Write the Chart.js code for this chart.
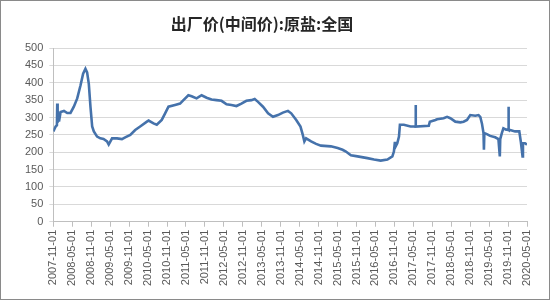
<!DOCTYPE html>
<html>
<head>
<meta charset="utf-8">
<script src="https://cdn.jsdelivr.net/npm/chart.js@4.4.1/dist/chart.umd.min.js"></script>
<style>
body { margin: 0; background: #fff; }
#frame { width: 550px; height: 300px; box-sizing: border-box; border: 1px solid #8a8a8a; }
</style>
</head>
<body>
<div id="frame"><canvas id="saltChart" width="548" height="298"></canvas></div>
<script>
const chartTitle = '出厂价(中间价):原盐:全国';

// x axis labels, one every 6 months
const tickLabels = ['2007-11-01','2008-05-01','2008-11-01','2009-05-01','2009-11-01','2010-05-01',
  '2010-11-01','2011-05-01','2011-11-01','2012-05-01','2012-11-01','2013-05-01','2013-11-01',
  '2014-05-01','2014-11-01','2015-05-01','2015-11-01','2016-05-01','2016-11-01','2017-05-01',
  '2017-11-01','2018-05-01','2018-11-01','2019-05-01','2019-11-01','2020-05-01'];

// (元/吨)
const dates = ['2007-11-01','2007-11-23','2007-12-05','2007-12-08','2007-12-12','2007-12-18','2007-12-25',
  '2008-01-10','2008-02-12','2008-03-13','2008-04-14','2008-05-16','2008-06-18','2008-07-19','2008-08-14',
  '2008-09-06','2008-09-22','2008-10-08','2008-10-24','2008-11-10','2008-11-26','2008-12-27','2009-01-28',
  '2009-02-28','2009-04-01','2009-04-17','2009-05-19','2009-07-06','2009-08-23','2009-09-24','2009-11-12',
  '2009-12-29','2010-02-16','2010-04-20','2010-05-06','2010-06-23','2010-07-24','2010-09-11','2010-10-13',
  '2010-11-15','2011-01-17','2011-03-05','2011-04-07','2011-05-24','2011-06-25','2011-08-12','2011-09-30',
  '2011-11-17','2012-01-04','2012-02-21','2012-04-09','2012-05-27','2012-07-13','2012-08-31','2012-10-18',
  '2012-12-05','2013-01-23','2013-02-24','2013-03-26','2013-05-13','2013-07-01','2013-08-18','2013-10-05',
  '2013-11-22','2014-01-10','2014-02-11','2014-03-29','2014-05-09','2014-06-01','2014-06-16','2014-07-02',
  '2014-08-20','2014-10-07','2014-11-24','2015-02-28','2015-05-02','2015-06-19','2015-07-21','2015-09-08',
  '2015-11-11','2016-02-15','2016-04-18','2016-06-21','2016-08-25','2016-10-12','2016-10-27','2016-11-06',
  '2016-11-10','2016-11-29','2016-12-15','2016-12-24','2017-02-01','2017-04-05','2017-05-20','2017-05-23',
  '2017-05-26','2017-09-28','2017-10-08','2017-12-01','2017-12-17','2018-02-19','2018-03-22','2018-04-23',
  '2018-06-10','2018-07-28','2018-08-29','2018-10-01','2018-11-02','2018-12-20','2019-01-21','2019-02-07',
  '2019-02-23','2019-03-08','2019-03-12','2019-03-16','2019-04-10','2019-05-11','2019-06-29','2019-07-30',
  '2019-08-13','2019-08-17','2019-09-02','2019-09-17','2019-10-13','2019-11-02','2019-11-05','2019-11-08',
  '2019-11-21','2020-01-08','2020-02-18','2020-03-02','2020-03-19','2020-03-23','2020-04-12','2020-05-01'];
const prices = [260,274,278,340,285,305,288,
  316,319,313,313,331,355,392,426,
  440,430,397,331,274,260,245,240,
  238,231,222,240,240,238,243,250,
  264,274,288,291,283,279,293,312,
  331,336,340,350,364,361,355,364,
  357,352,350,348,338,336,333,340,
  348,350,353,345,331,312,302,307,
  314,319,312,293,274,250,231,240,
  231,224,219,217,212,207,202,191,
  188,183,179,176,179,188,202,230,
  215,226,245,279,279,274,274,336,
  274,276,288,293,295,298,302,298,
  288,286,288,293,307,305,307,302,
  283,255,207,255,252,247,243,238,
  188,238,255,269,265,265,331,264,
  264,260,260,231,188,226,226,222];

function monthsFrom(d) {
  const [y, m, dd] = d.split('-').map(Number);
  return (y - 2007) * 12 + (m - 11) + (dd - 1) / 30.5;
}

const points = dates.map((d, i) => ({ x: monthsFrom(d), y: prices[i] }));

const titlePlugin = {
  id: 'topTitle',
  afterDraw(chart) {
    const c = chart.ctx;
    c.save();
    c.font = 'bold 16px "Noto Sans CJK SC"';
    c.fillStyle = '#262626';
    c.textAlign = 'center';
    c.textBaseline = 'middle';
    c.fillText(chartTitle, 261, 23);
    c.restore();
  }
};

const ctx = document.getElementById('saltChart').getContext('2d');
new Chart(ctx, {
  type: 'line',
  data: {
    datasets: [{
      data: points,
      borderColor: '#4572ab',
      borderWidth: 2.6,
      pointRadius: 0,
      tension: 0,
      fill: false
    }]
  },
  options: {
    responsive: false,
    animation: false,
    layout: { padding: { top: 47, left: 18, right: 22, bottom: 10 } },
    plugins: {
      legend: { display: false },
      title: { display: false },
      tooltip: { enabled: false }
    },
    scales: {
      x: {
        type: 'linear',
        min: 0,
        max: 150,
        afterBuildTicks: axis => {
          axis.ticks = tickLabels.map((_, i) => ({ value: i * 6 }));
        },
        ticks: {
          autoSkip: false,
          minRotation: 90,
          maxRotation: 90,
          padding: 3,
          color: '#595959',
          font: { family: 'Liberation Sans', size: 11 },
          callback: v => tickLabels[Math.round(v / 6)]
        },
        grid: { drawOnChartArea: false, drawTicks: true, tickLength: 5, color: '#bfbfbf' },
        border: { color: '#bfbfbf' }
      },
      y: {
        min: 0,
        max: 500,
        ticks: {
          stepSize: 50,
          padding: 6,
          color: '#595959',
          font: { family: 'Liberation Sans', size: 11 }
        },
        grid: { color: '#d9d9d9', tickLength: 4 },
        border: { color: '#bfbfbf' }
      }
    }
  },
  plugins: [titlePlugin]
});
</script>
</body>
</html>
